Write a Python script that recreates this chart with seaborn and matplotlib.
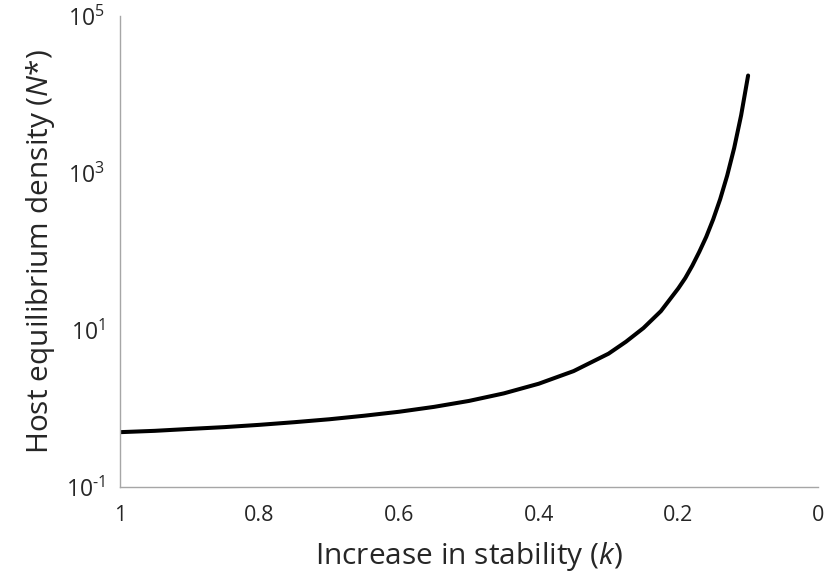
import pandas as pd
import matplotlib.pyplot as plt
import seaborn as sns

# values
k_values = [1.00, 0.95, 0.90, 0.85, 0.80, 0.75, 0.70, 0.65, 0.60, 0.55,
            0.50, 0.45, 0.40, 0.35, 0.30, 0.275, 0.25, 0.225, 0.20, 0.19,
            0.18, 0.17, 0.16, 0.15, 0.14, 0.13, 0.12, 0.11, 0.10]
host_density = [0.50, 0.52, 0.55, 0.58, 0.62, 0.67, 0.73, 0.81, 0.91, 1.05,
                1.25, 1.56, 2.07, 3.0, 5.0, 7.1, 10.6, 17.4, 34, 46,
                66, 99, 154, 258, 466, 928, 2080, 5450, 17500]
x_ticks = [1, 0.8, 0.6, 0.4, 0.2, 0]
x_tick_labels = ["1", "0.8", "0.6", "0.4", "0.2", "0"]
y_ticks = [1e-1, 1e0, 1e1, 1e2, 1e3, 1e4, 1e5]
y_tick_labels = ["$10^{\\text{-1}}$", "", "$10^{1}$", "", "$10^{3}$", "", "$10^{5}$"]

df = pd.DataFrame({"k": k_values, "N": host_density})

sns.set_style("white")
plt.rcParams['font.family'] = ['Open Sans', 'DejaVu Sans']
plt.rcParams['mathtext.fontset'] = 'custom'
plt.rcParams['mathtext.rm'] = 'Open Sans'
plt.rcParams['mathtext.it'] = 'Open Sans:italic'

fig = plt.figure(figsize=(8.24, 5.75), dpi=100)
ax = fig.add_axes([0.1456, 0.153, 0.847, 0.819])

sns.lineplot(data=df, x="k", y="N", color="black", linewidth=2.9, ax=ax,
             sort=False, solid_capstyle="round")

ax.set_yscale("log")
ax.set_xlim(1, 0)
ax.set_ylim(1e-1, 1e5)
ax.set_xticks(x_ticks)
ax.set_xticklabels(x_tick_labels)
ax.set_yticks(y_ticks)
ax.set_yticklabels(y_tick_labels)
ax.minorticks_off()

grey = "#a6a6a6"
for side in ["top", "right"]:
    ax.spines[side].set_visible(False)
for side in ["left", "bottom"]:
    ax.spines[side].set_color(grey)
    ax.spines[side].set_linewidth(1.0)
ax.tick_params(axis="both", which="major", direction="out", length=6,
               width=1.0, color=grey, labelcolor="#262626")
ax.tick_params(axis="x", labelsize=15.5, pad=7)
ax.tick_params(axis="y", labelsize=16.5, pad=5)

ax.set_xlabel("Increase in stability ($\\mathit{k}$)", fontsize=21.5,
              color="#262626", labelpad=10)
ax.set_ylabel("Host equilibrium density ($\\mathit{N}$*)", fontsize=21.5,
              color="#262626", labelpad=6)

fig.savefig("out.png", dpi=100)
